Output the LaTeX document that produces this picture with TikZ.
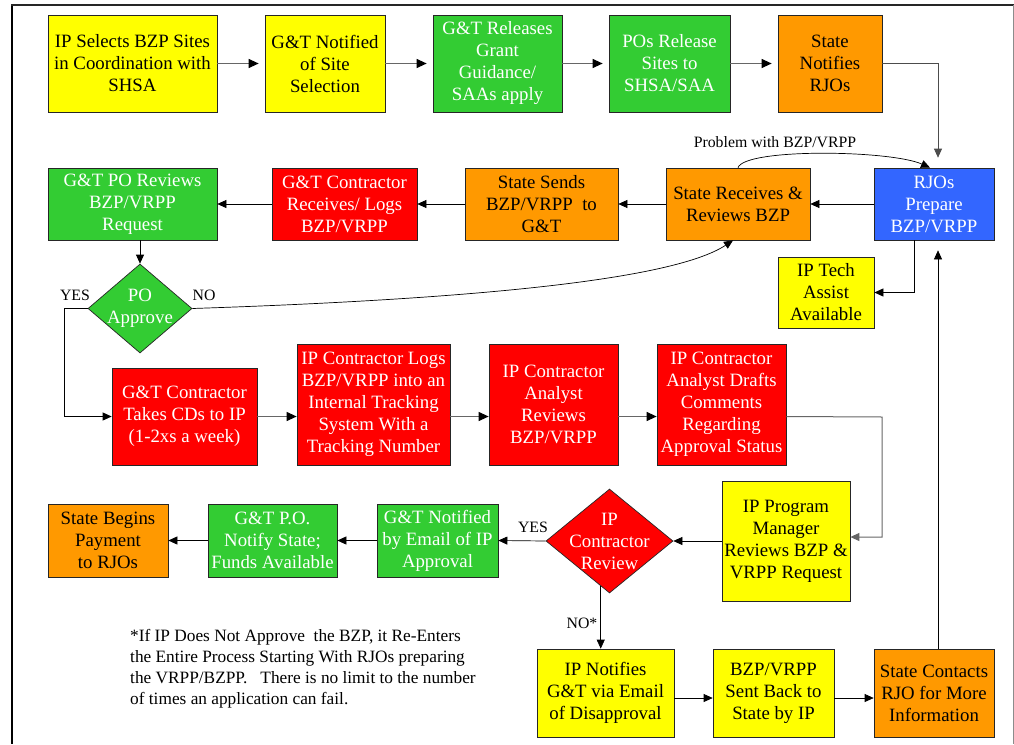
\documentclass[tikz,border=0pt]{standalone}
\usepackage{fontspec}
\setmainfont{Liberation Serif}
\usetikzlibrary{arrows.meta,shapes.geometric,calc}
\definecolor{cyel}{HTML}{FFFF00}
\definecolor{cgrn}{HTML}{33CC33}
\definecolor{cred}{HTML}{FF0000}
\definecolor{corg}{HTML}{FF9900}
\definecolor{cblu}{HTML}{3366FF}
\definecolor{cline}{HTML}{666666}
\begin{document}
\begin{tikzpicture}[x=1pt,y=-1pt,
  box/.style={draw=black!85, line width=0.7pt, inner sep=0pt, align=center,
    font=\fontsize{18.8}{22}\selectfont},
  sz/.style 2 args={minimum width=#1, minimum height=#2},
  yelbox/.style={box, fill=cyel, text=black},
  grnbox/.style={box, fill=cgrn, text=white},
  redbox/.style={box, fill=cred, text=white},
  orgbox/.style={box, fill=corg, text=black},
  blubox/.style={box, fill=cblu, text=white},
  dia/.style={diamond, draw=black!85, line width=0.7pt, inner sep=0pt},
  arr/.style={draw=black, line width=0.7pt, -{Triangle[length=9pt,width=8pt]}},
  garr/.style={draw=cline, line width=1.1pt, -{Triangle[length=10pt,width=9pt,color=black]}},
  lbl/.style={font=\fontsize{15.8}{18}\selectfont, text=black, inner sep=1pt}
]
\useasboundingbox (0,0) rectangle (1014,744);
\fill[white] (0,0) rectangle (1014,744);
% frame
\draw[line width=2pt, black] (12,5) -- (12,744);
\draw[line width=1.4pt, black!85] (11,5) -- (1013.5,5);
\draw[line width=0.8pt, black!45] (1013.5,5) -- (1013.5,744);

% row 1
\node[yelbox, sz={169pt}{97pt}] (a1) at (132.5,63.5) {IP Selects BZP Sites\\in Coordination with\\SHSA};
\node[yelbox, sz={120pt}{97pt}] (a2) at (325,63.5) {G\&T Notified\\of Site\\Selection};
\node[grnbox, sz={129pt}{97pt}] (a3) at (497.5,63.5) {G\&T Releases\\Grant\\Guidance/\\SAAs apply};
\node[grnbox, sz={121pt}{97pt}] (a4) at (669.5,63.5) {POs Release\\Sites to\\SHSA/SAA};
\node[orgbox, sz={104pt}{97pt}] (a5) at (830,63.5) {State\\Notifies\\RJOs};

% row 2
\node[grnbox, sz={169pt}{72pt}] (b1) at (132.5,204) {G\&T PO Reviews\\BZP/VRPP\\Request};
\node[redbox, sz={145pt}{72pt}] (b2) at (344.5,204) {G\&T Contractor\\Receives/ Logs\\BZP/VRPP};
\node[orgbox, sz={153pt}{72pt}] (b3) at (541.5,204) {State Sends\\BZP/VRPP\ \ to\\G\&T};
\node[orgbox, sz={144pt}{72pt}] (b4) at (738,204) {State Receives \&\\Reviews BZP};
\node[blubox, sz={120pt}{72pt}] (rjo) at (934,204) {RJOs\\Prepare\\BZP/VRPP};
\node[yelbox, sz={96pt}{71pt}] (tech) at (826,292.5) {IP Tech\\Assist\\Available};

\node[dia, fill=cgrn, minimum width=104pt, minimum height=89pt,
  label={[text=white, align=center, font=\fontsize{18.8}{22}\selectfont]center:PO\\Approve}] (poa) at (140,308.5) {};

% row 3
\node[redbox, sz={145pt}{97pt}] (c1) at (184.5,416.5) {G\&T Contractor\\Takes CDs to IP\\(1-2xs a week)};
\node[redbox, sz={153pt}{121pt}] (c2) at (373.5,404.5) {IP Contractor Logs\\BZP/VRPP into an\\Internal Tracking\\System With a\\Tracking Number};
\node[redbox, sz={129pt}{121pt}] (c3) at (553.5,404.5) {IP Contractor\\Analyst\\Reviews\\BZP/VRPP};
\node[redbox, sz={129pt}{121pt}] (c4) at (721.5,404.5) {IP Contractor\\Analyst Drafts\\Comments\\Regarding\\Approval Status};

% row 4
\node[yelbox, sz={128pt}{120pt}] (pm) at (786,541) {IP Program\\Manager\\Reviews BZP \&\\VRPP Request};
\node[dia, fill=cred, minimum width=127pt, minimum height=104pt,
  label={[text=white, align=center, font=\fontsize{18.8}{22}\selectfont]center:IP\\Contractor\\Review}] (ipr) at (609.5,541) {};
\node[grnbox, sz={121pt}{73pt}] (d1) at (437.5,540.5) {G\&T Notified\\by Email of IP\\Approval};
\node[grnbox, sz={129pt}{73pt}] (d2) at (272.5,540.5) {G\&T P.O.\\Notify State;\\Funds Available};
\node[orgbox, sz={120pt}{73pt}] (d3) at (108,540.5) {State Begins\\Payment\\to RJOs};

% row 5
\node[yelbox, sz={137pt}{88pt}] (e1) at (605.5,693) {IP Notifies\\G\&T via Email\\of Disapproval};
\node[yelbox, sz={121pt}{88pt}] (e2) at (773.5,693) {BZP/VRPP\\Sent Back to\\State by IP};
\node[orgbox, sz={120pt}{88pt}] (e3) at (934,693) {State Contacts\\RJO for More\\Information};

% footnote
\node[anchor=north west, align=left, inner sep=0pt,
  font=\fontsize{17.3}{20.9}\selectfont] (note) at (130,629)
  {*If IP Does Not Approve\ \ the BZP, it Re-Enters\\
   the Entire Process Starting With RJOs preparing\\
   the VRPP/BZPP.\ \ \ There is no limit to the number\\
   of times an application can fail.};

% connectors row 1
\draw[garr, shorten >=6pt] (a1.east) -- (a2.west);
\draw[garr, shorten >=6pt] (a2.east) -- (a3.west);
\draw[garr, shorten >=6pt] (a3.east) -- (a4.west);
\draw[garr, shorten >=6pt] (a4.east) -- (a5.west);
\draw[arr, draw=black!70, shorten >=10pt] (a5.east) -| ([xshift=4pt]rjo.north);

% row 2
\draw[arr] (rjo.west) -- (b4.east);
\draw[arr] (b4.west) -- (b3.east);
\draw[arr] (b3.west) -- (b2.east);
\draw[arr] (b2.west) -- (b1.east);
\draw[arr] (b1.south -| poa.north) -- (poa.north);
\draw[arr] ([xshift=-20pt]rjo.south) |- (tech.east);
\draw[arr] (b4.north) .. controls (745,148) and (890,150) .. ([xshift=-4pt]rjo.north)
  node[lbl, pos=0.3, above=7pt] {Problem with BZP/VRPP};

% PO approve
\coordinate (yesx) at (64,308.5);
\draw[arr] (poa.west) -- (yesx) |- (c1.west);
\node[lbl, anchor=south] at (75,302) {YES};
\node[lbl, anchor=south] at (204,302) {NO};
\draw[arr] (poa.east) .. controls (450,300) and (670,282) .. ([xshift=-5pt]b4.south);

% row 3
\draw[garr] (c1.east) -- (c1.east -| c2.west);
\draw[garr] (c2.east |- c1.east) -- (c1.east -| c3.west);
\draw[garr] (c3.east |- c1.east) -- (c1.east -| c4.west);
\coordinate (cx) at (882,417);
\draw[arr, draw=cline, line width=1pt] (c4.east |- c1.east) -- (cx) |- ([yshift=4pt]pm.east);

% row 4
\draw[arr] (pm.west) -- (ipr.east);
\draw[arr] (ipr.west) -- (d1.east);
\node[lbl, anchor=south] at (533,534) {YES};
\draw[arr] (d1.west) -- (d2.east);
\draw[arr] (d2.west) -- (d3.east);
\draw[arr] (ipr.259) -- (ipr.259 |- e1.north)
  node[lbl, pos=0.6, left=2pt] {NO*};

% row 5
\draw[arr] ([yshift=-5pt]e1.east) -- ([yshift=-5pt]e2.west);
\draw[arr] ([yshift=-5pt]e2.east) -- ([yshift=-5pt]e3.west);
\draw[arr, shorten >=10pt] ([xshift=4pt]e3.north) -- ([xshift=4pt]rjo.south);
\end{tikzpicture}
\end{document}
